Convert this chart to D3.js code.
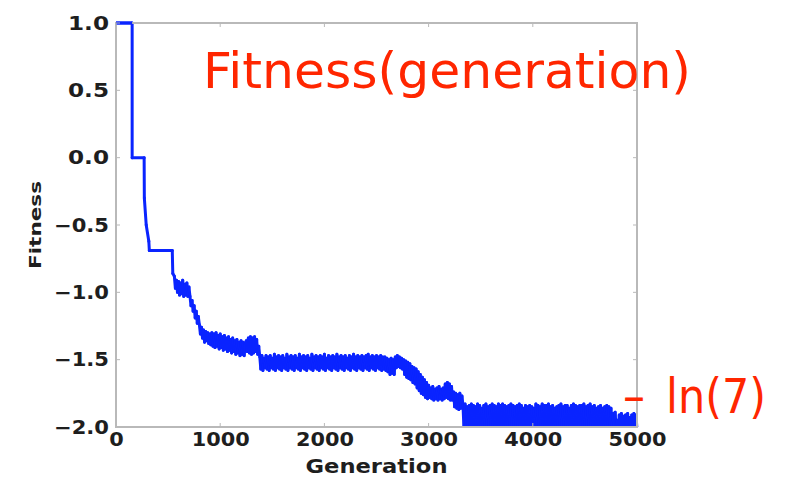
<!DOCTYPE html>
<html>
<head>
<meta charset="utf-8">
<script src="https://cdn.jsdelivr.net/npm/d3@7"></script>
<style>
  html, body { margin: 0; padding: 0; background: #fff; }
  svg { display: block; }
</style>
</head>
<body>
<svg id="chart" width="788" height="477"></svg>
<script>
// ---- data ----
const xTicks = [0, 1000, 2000, 3000, 4000, 5000];
const yTicks = [-2.0, -1.5, -1.0, -0.5, 0.0, 0.5, 1.0];

// early, clean step part of the run
const stepGeneration = [0, 155, 155, 270, 272, 290, 315, 320, 540, 545];
const stepFitness    = [1.0, 1.0, 0.0, 0.0, -0.30, -0.50, -0.62, -0.69, -0.69, -0.86];

// noisy part, sampled every 10 generations from generation 560
const noisyStart = 560;
const noisyStep = 10;
const noisyFitness = [
  // 560-700
  -0.88,-0.97,-0.91,-1.00,-0.92,-1.02,-0.93,-1.01,-0.91,-1.03,-0.94,-1.02,-0.93,-1.03,-0.96,
  // 710-790
  -1.03,-1.10,-1.06,-1.14,-1.10,-1.19,-1.14,-1.23,-1.18,
  // 800-900
  -1.24,-1.31,-1.26,-1.34,-1.28,-1.37,-1.29,-1.36,-1.30,-1.38,-1.31,
  // 910-1240
  -1.39,-1.30,-1.40,-1.31,-1.41,-1.30,-1.40,-1.32,-1.42,-1.31,
  -1.41,-1.33,-1.43,-1.32,-1.42,-1.34,-1.44,-1.33,-1.43,-1.35,
  -1.45,-1.34,-1.44,-1.36,-1.46,-1.35,-1.45,-1.37,-1.47,-1.36,
  -1.46,-1.37,-1.47,-1.38,
  // 1250-1370
  -1.36,-1.44,-1.34,-1.45,-1.33,-1.46,-1.34,-1.45,-1.33,-1.44,-1.35,-1.46,-1.40,
  // 1380-2590
  -1.48,-1.57,-1.47,-1.58,-1.49,-1.56,-1.47,-1.57,-1.48,-1.58,
  -1.47,-1.56,-1.49,-1.57,-1.46,-1.58,-1.48,-1.56,-1.47,-1.57,
  -1.48,-1.58,-1.47,-1.56,-1.49,-1.57,-1.46,-1.58,-1.48,-1.56,
  -1.47,-1.57,-1.48,-1.58,-1.47,-1.56,-1.49,-1.57,-1.46,-1.58,
  -1.48,-1.56,-1.47,-1.57,-1.48,-1.58,-1.47,-1.56,-1.49,-1.57,
  -1.46,-1.58,-1.48,-1.56,-1.47,-1.57,-1.48,-1.58,-1.47,-1.56,
  -1.48,-1.57,-1.46,-1.58,-1.49,-1.56,-1.47,-1.57,-1.48,-1.58,
  -1.47,-1.56,-1.48,-1.57,-1.46,-1.58,-1.48,-1.56,-1.47,-1.57,
  -1.48,-1.58,-1.47,-1.56,-1.49,-1.57,-1.47,-1.58,-1.48,-1.56,
  -1.46,-1.57,-1.48,-1.58,-1.47,-1.56,-1.48,-1.57,-1.47,-1.58,
  -1.48,-1.56,-1.47,-1.57,-1.46,-1.58,-1.48,-1.56,-1.47,-1.57,
  -1.48,-1.58,-1.47,-1.56,-1.48,-1.57,-1.47,-1.58,-1.48,-1.57,
  -1.48,-1.58,
  // 2600-2670
  -1.49,-1.59,-1.50,-1.61,-1.49,-1.60,-1.50,-1.61,
  // 2680-2750
  -1.48,-1.56,-1.47,-1.55,-1.48,-1.56,-1.49,-1.57,
  // 2760-2870
  -1.50,-1.61,-1.51,-1.63,-1.52,-1.64,-1.53,-1.65,-1.55,-1.67,-1.56,-1.68,
  // 2880-3010
  -1.57,-1.71,-1.59,-1.73,-1.61,-1.75,-1.63,-1.76,-1.65,-1.78,-1.67,-1.79,-1.69,-1.78,
  // 3020-3150
  -1.71,-1.79,-1.70,-1.80,-1.72,-1.79,-1.71,-1.80,-1.70,-1.79,-1.72,-1.80,-1.71,-1.79,
  // 3160-3220
  -1.68,-1.78,-1.67,-1.79,-1.68,-1.80,-1.70,
  // 3230-3320
  -1.80,-1.74,-1.85,-1.75,-1.86,-1.76,-1.87,-1.75,-1.86,-1.77,
  // 3330-4750
  -1.84,-2.02,-1.83,-2.02,-1.85,-2.02,-1.84,-2.02,-1.83,-2.02,
  -1.84,-2.02,-1.85,-2.02,-1.83,-2.02,-1.84,-2.02,-1.86,-2.02,
  -1.84,-2.02,-1.83,-2.02,-1.85,-2.02,-1.84,-2.02,-1.83,-2.02,
  -1.84,-2.02,-1.85,-2.02,-1.83,-2.02,-1.84,-2.02,-1.83,-2.02,
  -1.84,-2.02,-1.85,-2.02,-1.84,-2.02,-1.83,-2.02,-1.84,-2.02,
  -1.85,-2.02,-1.84,-2.02,-1.83,-2.02,-1.84,-2.02,-1.86,-2.02,
  -1.84,-2.02,-1.85,-2.02,-1.84,-2.02,-1.85,-2.02,-1.86,-2.02,
  -1.83,-2.02,-1.84,-2.02,-1.85,-2.02,-1.83,-2.02,-1.84,-2.02,
  -1.84,-2.02,-1.83,-2.02,-1.85,-2.02,-1.84,-2.02,-1.86,-2.02,
  -1.85,-2.02,-1.84,-2.02,-1.83,-2.02,-1.85,-2.02,-1.84,-2.02,
  -1.84,-2.02,-1.86,-2.02,-1.84,-2.02,-1.83,-2.02,-1.84,-2.02,
  -1.85,-2.02,-1.84,-2.02,-1.84,-2.02,-1.83,-2.02,-1.85,-2.02,
  -1.84,-2.02,-1.83,-2.02,-1.85,-2.02,-1.84,-2.02,-1.86,-2.02,
  -1.85,-2.02,-1.84,-2.02,-1.86,-2.02,-1.85,-2.02,-1.84,-2.02,
  -1.85,-2.02,-1.86,
  // 4760-5000
  -2.02,-1.90,-2.02,-1.89,-2.02,-1.95,-2.02,-1.91,-2.02,-1.90,
  -2.02,-1.92,-2.02,-1.91,-2.02,-1.90,-2.02,-1.93,-2.02,-1.91,
  -2.02,-1.90,-2.02,-1.91,-2.02
];

const xLabel = "Generation";
const yLabel = "Fitness";
const titleText = "Fitness(generation)";
const noteText = "ln(7)";

// ---- build series ----
const series = stepGeneration.map((g, i) => ({ g, f: stepFitness[i] }))
  .concat(noisyFitness.map((f, i) => ({ g: noisyStart + i * noisyStep, f })));

// ---- layout ----
const plot = { left: 116, right: 637, top: 23, bottom: 427 };
const svg = d3.select("#chart");

const x = d3.scaleLinear().domain([0, 5000]).range([plot.left, plot.right]);
const y = d3.scaleLinear().domain([-2, 1]).range([plot.bottom, plot.top]);

const frameColor = "#b9b9b9";
const textColor = "#1e1e1e";
const tickFont = "'DejaVu Sans', sans-serif";
const lineColor = "#0a24ff";

// clip
svg.append("defs").append("clipPath").attr("id", "clip")
  .append("rect")
  .attr("x", plot.left).attr("y", plot.top - 3)
  .attr("width", plot.right - plot.left + 2)
  .attr("height", plot.bottom - plot.top + 3);

// data line, drawn segment by segment so the dense zig-zag renders as a solid band
const line = d3.line().x(d => x(d.g)).y(d => y(d.f));
svg.append("g")
  .attr("clip-path", "url(#clip)")
  .selectAll("path")
  .data(d3.pairs(series))
  .join("path")
  .attr("fill", "none")
  .attr("stroke", lineColor)
  .attr("stroke-width", 3)
  .attr("stroke-linecap", "round")
  .attr("d", d => line(d));

// frame
svg.append("rect")
  .attr("x", plot.left).attr("y", plot.top)
  .attr("width", plot.right - plot.left)
  .attr("height", plot.bottom - plot.top)
  .attr("fill", "none")
  .attr("stroke", frameColor)
  .attr("stroke-width", 2);

// re-draw the first flat piece on top of the frame (it sits on the top border)
svg.append("path")
  .datum(series.slice(0, 2))
  .attr("fill", "none")
  .attr("stroke", lineColor)
  .attr("stroke-width", 3)
  .attr("d", line);

// inward ticks on all four sides
const tickLen = 4;
const tg = svg.append("g").attr("stroke", frameColor).attr("stroke-width", 1);
xTicks.forEach(t => {
  tg.append("line").attr("x1", x(t)).attr("x2", x(t)).attr("y1", plot.bottom).attr("y2", plot.bottom - tickLen);
  tg.append("line").attr("x1", x(t)).attr("x2", x(t)).attr("y1", plot.top).attr("y2", plot.top + tickLen);
});
yTicks.forEach(t => {
  tg.append("line").attr("y1", y(t)).attr("y2", y(t)).attr("x1", plot.left).attr("x2", plot.left + tickLen);
  tg.append("line").attr("y1", y(t)).attr("y2", y(t)).attr("x1", plot.right).attr("x2", plot.right - tickLen);
});

// axes (labels only)
const xAxis = svg.append("g")
  .attr("transform", `translate(0,${plot.bottom})`)
  .call(d3.axisBottom(x).tickValues(xTicks).tickFormat(d3.format("d")).tickSize(0).tickPadding(6));
const yAxis = svg.append("g")
  .attr("transform", `translate(${plot.left},0)`)
  .call(d3.axisLeft(y).tickValues(yTicks).tickFormat(d3.format(".1f")).tickSize(0).tickPadding(7));

[xAxis, yAxis].forEach(a => {
  a.select(".domain").remove();
  a.selectAll("text")
    .attr("fill", textColor)
    .style("font-family", tickFont)
    .style("font-weight", "bold")
    .style("font-size", "19px");
});
xAxis.selectAll(".tick text")
  .attr("textLength", d => String(d).length * 14.5)
  .attr("lengthAdjust", "spacingAndGlyphs");
yAxis.selectAll(".tick text")
  .each(function() {
    const s = this.textContent;
    d3.select(this).attr("textLength", s.length === 4 ? 55 : 41).attr("lengthAdjust", "spacingAndGlyphs");
  });

// axis titles
svg.append("text")
  .attr("x", (plot.left + plot.right) / 2).attr("y", 473)
  .attr("text-anchor", "middle")
  .attr("fill", textColor)
  .style("font-family", tickFont).style("font-weight", "bold").style("font-size", "19px")
  .attr("textLength", 142).attr("lengthAdjust", "spacingAndGlyphs")
  .text(xLabel);

svg.append("text")
  .attr("transform", `translate(41,${(plot.top + plot.bottom) / 2}) rotate(-90)`)
  .attr("text-anchor", "middle")
  .attr("fill", textColor)
  .style("font-family", tickFont).style("font-weight", "bold").style("font-size", "16px")
  .attr("textLength", 88).attr("lengthAdjust", "spacingAndGlyphs")
  .text(yLabel);

// red annotations
const red = "#ff2600";
svg.append("text")
  .attr("x", 203).attr("y", 88)
  .attr("fill", red)
  .style("font-family", "'DejaVu Sans', sans-serif").style("font-size", "50px")
  .attr("textLength", 488).attr("lengthAdjust", "spacingAndGlyphs")
  .text(titleText);

svg.append("text")
  .attr("x", 623).attr("y", 413)
  .attr("fill", red)
  .style("font-family", "'DejaVu Sans', sans-serif").style("font-size", "48px")
  .attr("textLength", 22).attr("lengthAdjust", "spacingAndGlyphs")
  .text("–");

svg.append("text")
  .attr("x", 666).attr("y", 413)
  .attr("fill", red)
  .style("font-family", "'DejaVu Sans', sans-serif").style("font-size", "48px")
  .attr("textLength", 100).attr("lengthAdjust", "spacingAndGlyphs")
  .text(noteText);
</script>
</body>
</html>
